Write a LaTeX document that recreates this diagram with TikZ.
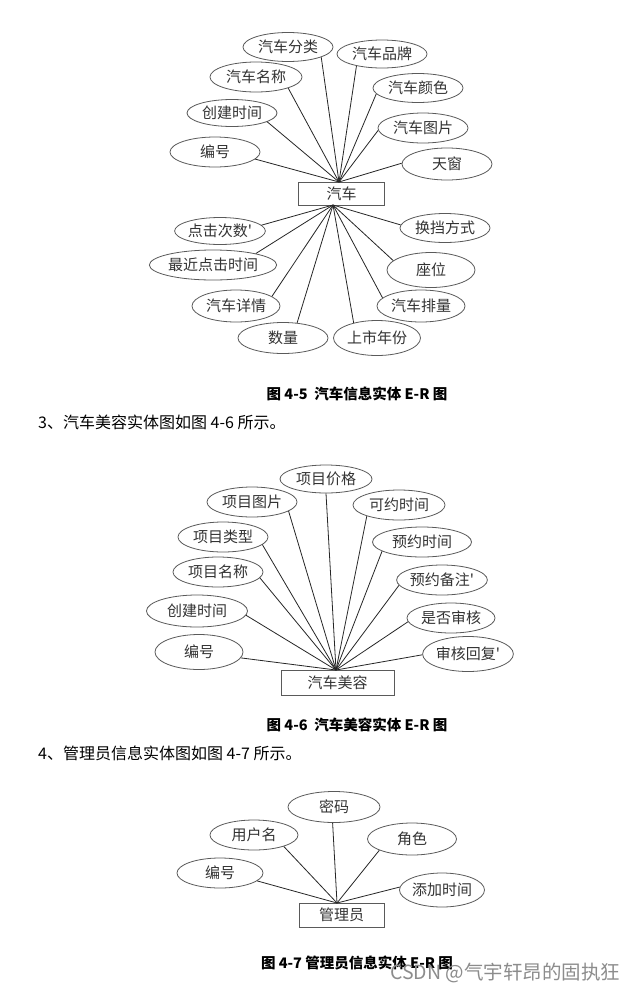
\documentclass[tikz,border=0pt]{standalone}
\usepackage{fontspec}
\newfontfamily\cjk{Noto Sans CJK SC}
\usetikzlibrary{shapes.geometric}
\definecolor{edgegray}{HTML}{5A5A5A}
\definecolor{txtgray}{HTML}{333333}
\tikzset{
  attr/.style={ellipse, draw=edgegray, line width=0.8pt, inner sep=0pt,
    font=\cjk\fontsize{15}{15}\selectfont, text=txtgray},
  entbox/.style={rectangle, draw=edgegray, line width=1pt, inner sep=0pt,
    font=\cjk\fontsize{15}{15}\selectfont, text=txtgray},
  conn/.style={draw=black!85, line width=0.8pt},
  caption/.style={font=\cjk\bfseries\fontsize{14.5}{15}\selectfont, text=black, inner sep=0pt},
  bodytext/.style={font=\cjk\fontsize{16}{17}\selectfont, text=black, anchor=west, inner sep=0pt},
  wmark/.style={font=\cjk\fontsize{19.5}{20}\selectfont, text=black!45, anchor=west, inner sep=0pt}
}
\begin{document}
\begin{tikzpicture}[x=1pt,y=-1pt]
\useasboundingbox[fill=white] (0,0) rectangle (637,994);

% ---------------- Figure 4-5 ----------------
\node[entbox, minimum width=86pt, minimum height=23pt] (car) at (341.5,193.5) {汽车};
\coordinate (h1t) at (339,182);
\coordinate (h1b) at (333,205);

\node[attr, minimum width=90pt, minimum height=29pt] (a1) at (288,47) {汽车分类};
\node[attr, minimum width=90pt, minimum height=28pt] (a2) at (382,54) {汽车品牌};
\node[attr, minimum width=92pt, minimum height=30pt] (a3) at (256,77) {汽车名称};
\node[attr, minimum width=90pt, minimum height=29pt] (a4) at (418,88) {汽车颜色};
\node[attr, minimum width=90pt, minimum height=27pt] (a5) at (232,113) {创建时间};
\node[attr, minimum width=90pt, minimum height=30pt] (a6) at (423,128) {汽车图片};
\node[attr, minimum width=90pt, minimum height=30pt] (a7) at (215,152) {编号};
\node[attr, minimum width=90pt, minimum height=32pt] (a8) at (447,164) {天窗};

\node[attr, minimum width=90pt, minimum height=27pt] (b1) at (220,231) {点击次数'};
\node[attr, minimum width=90pt, minimum height=29pt] (b2) at (445,228) {换挡方式};
\node[attr, minimum width=100pt, minimum height=30pt] (b3) at (213,265) {最近点击时间};
\node[attr, minimum width=88pt, minimum height=35pt] (b4) at (431,270) {座位};
\node[attr, minimum width=88pt, minimum height=32pt] (b5) at (236,306) {汽车详情};
\node[attr, minimum width=88pt, minimum height=32pt] (b6) at (421,306) {汽车排量};
\node[attr, minimum width=90pt, minimum height=31pt] (b7) at (283,338) {数量};
\node[attr, minimum width=87pt, minimum height=35pt] (b8) at (377,338) {上市年份};

\draw[conn] (a1.-17) -- (h1t);
\draw[conn] (a2.-155) -- (h1t);
\draw[conn] (a3.-19) -- (h1t);
\draw[conn] (a4.-172) -- (h1t);
\draw[conn] (a5.-14) -- (h1t);
\draw[conn] (a6.-177) -- (h1t);
\draw[conn] (a7.-10) -- (h1t);
\draw[conn] (a8.179) -- (h1t);

\draw[conn] (b1.8) -- (h1b);
\draw[conn] (b2.176) -- (h1b);
\draw[conn] (b3.15) -- (h1b);
\draw[conn] (b4.166) -- (h1b);
\draw[conn] (b5.15) -- (h1b);
\draw[conn] (b6.168) -- (h1b);
\draw[conn] (b7.47) -- (h1b);
\draw[conn] (b8.147) -- (h1b);

\node[caption] (cap1) at (357,394) {图 4-5\ \ 汽车信息实体 E-R 图};
\node[bodytext] (t3) at (38,422) {3、汽车美容实体图如图 4-6 所示。};

% ---------------- Figure 4-6 ----------------
\node[entbox, minimum width=113pt, minimum height=25pt] (beauty) at (337.5,682.5) {汽车美容};
\coordinate (h2) at (336,670);

\node[attr, minimum width=92pt, minimum height=28pt] (c1) at (326,479) {项目价格};
\node[attr, minimum width=90pt, minimum height=30pt] (c2) at (252,502) {项目图片};
\node[attr, minimum width=92pt, minimum height=30pt] (c3) at (399,505) {可约时间};
\node[attr, minimum width=90pt, minimum height=30pt] (c4) at (223,537) {项目类型};
\node[attr, minimum width=99pt, minimum height=30pt] (c5) at (422,542) {预约时间};
\node[attr, minimum width=90pt, minimum height=30pt] (c6) at (218,572) {项目名称};
\node[attr, minimum width=89pt, minimum height=30pt] (c7) at (442,580) {预约备注'};
\node[attr, minimum width=101pt, minimum height=32pt] (c8) at (197,611) {创建时间};
\node[attr, minimum width=88pt, minimum height=30pt] (c9) at (451,618) {是否审核};
\node[attr, minimum width=88pt, minimum height=35pt] (c10) at (199,652) {编号};
\node[attr, minimum width=87pt, minimum height=35pt] (c11) at (468,654) {审核回复'};

\draw[conn] (c1.-90) -- (h2);
\draw[conn] (c2.-14) -- (h2);
\draw[conn] (c3.-161) -- (h2);
\draw[conn] (c4.-11) -- (h2);
\draw[conn] (c5.-167) -- (h2);
\draw[conn] (c6.-8) -- (h2);
\draw[conn] (c7.-173) -- (h2);
\draw[conn] (c8.-5) -- (h2);
\draw[conn] (c9.-175) -- (h2);
\draw[conn] (c10.-8) -- (h2);
\draw[conn] (c11.-179) -- (h2);

\node[caption] (cap2) at (357,725) {图 4-6\ \ 汽车美容实体 E-R 图};
\node[bodytext] (t4) at (38,753) {4、管理员信息实体图如图 4-7 所示。};

% ---------------- Figure 4-7 ----------------
\node[entbox, minimum width=85pt, minimum height=24pt] (admin) at (341.5,915) {管理员};
\coordinate (h3) at (337,903);

\node[attr, minimum width=92pt, minimum height=31pt] (d1) at (334,807) {密码};
\node[attr, minimum width=88pt, minimum height=30pt] (d2) at (254,835) {用户名};
\node[attr, minimum width=89pt, minimum height=32pt] (d3) at (412,839) {角色};
\node[attr, minimum width=86pt, minimum height=30pt] (d4) at (220,873) {编号};
\node[attr, minimum width=85pt, minimum height=34pt] (d5) at (442,890) {添加时间};

\draw[conn] (d1.-95) -- (h3);
\draw[conn] (d2.-21) -- (h3);
\draw[conn] (d3.-161) -- (h3);
\draw[conn] (d4.-12) -- (h3);
\draw[conn] (d5.176) -- (h3);

\node[caption] (cap3) at (357,963) {图 4-7 管理员信息实体 E-R 图};
\node[wmark] (wm) at (390,973) {CSDN @气宇轩昂的固执狂};
\end{tikzpicture}
\end{document}
